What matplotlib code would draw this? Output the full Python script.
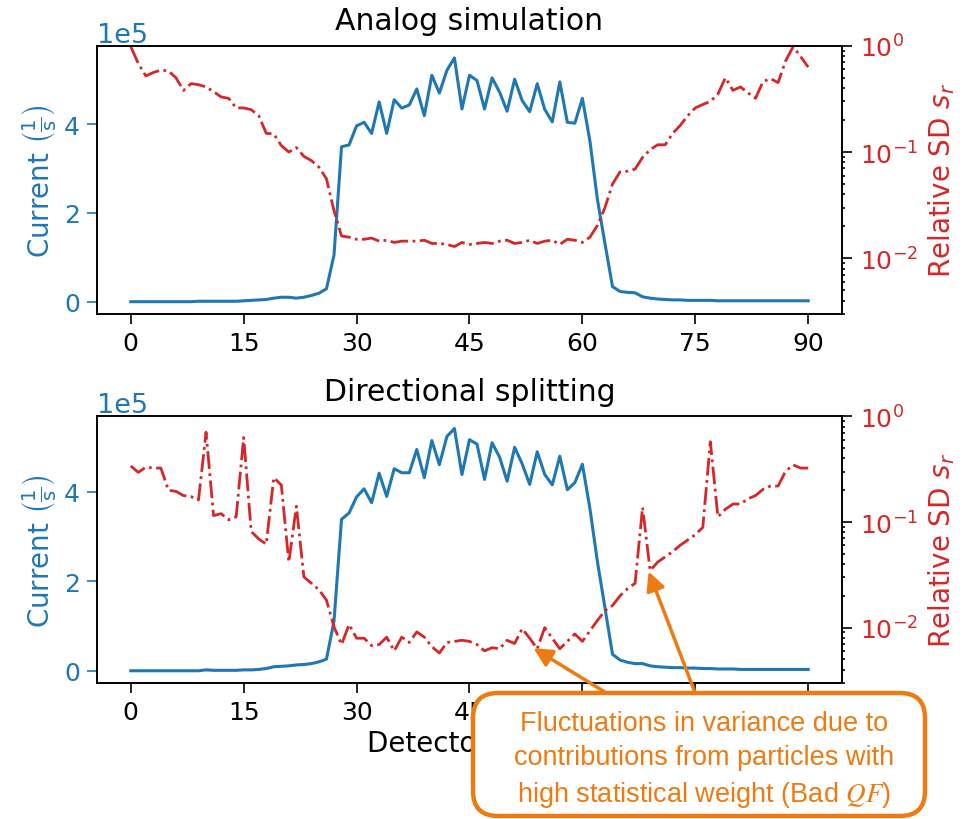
import matplotlib
matplotlib.use("Agg")
import matplotlib.pyplot as plt
from matplotlib.patches import FancyBboxPatch
import numpy as np

# ── data ─────────────────────────────────────────────────────────────────────
det = np.arange(91)

analog_current = [  # units of 1e5 1/s
    0.0, 0.0, 0.0, 0.0, 0.0, 0.0, 0.0, 0.0, 0.0, 0.01,
    0.01, 0.01, 0.01, 0.01, 0.01, 0.02, 0.03, 0.04, 0.05, 0.08,
    0.10, 0.10, 0.08, 0.10, 0.14, 0.19, 0.29, 1.05, 3.49, 3.53,
    3.96, 4.04, 3.79, 4.50, 3.79, 4.55, 4.36, 4.43, 4.79, 4.19,
    5.10, 4.70, 5.21, 5.49, 4.34, 5.10, 4.98, 4.34, 5.04, 4.72,
    4.29, 5.01, 4.53, 4.28, 4.91, 4.33, 4.05, 4.95, 4.04, 4.02,
    4.58, 3.62, 2.30, 1.31, 0.34, 0.23, 0.21, 0.20, 0.11, 0.08,
    0.06, 0.05, 0.04, 0.04, 0.03, 0.03, 0.03, 0.03, 0.02, 0.02,
    0.02, 0.02, 0.02, 0.02, 0.02, 0.02, 0.02, 0.02, 0.02, 0.02,
    0.02]
analog_sd = [
    0.98, 0.68, 0.52, 0.56, 0.59, 0.58, 0.50, 0.38, 0.44, 0.43,
    0.41, 0.37, 0.33, 0.32, 0.26, 0.26, 0.25, 0.22, 0.15, 0.148,
    0.115, 0.100, 0.110, 0.091, 0.083, 0.072, 0.056, 0.028, 0.0162, 0.0158,
    0.0151, 0.0151, 0.0155, 0.0145, 0.0148, 0.0141, 0.0145, 0.0145, 0.0145, 0.0148,
    0.0138, 0.0138, 0.0135, 0.0129, 0.0141, 0.0135, 0.0138, 0.0141, 0.0138, 0.0145,
    0.0148, 0.0138, 0.0141, 0.0148, 0.0138, 0.0145, 0.0148, 0.0135, 0.0151, 0.0148,
    0.0141, 0.0158, 0.0204, 0.030, 0.050, 0.065, 0.066, 0.069, 0.089, 0.105,
    0.117, 0.117, 0.150, 0.178, 0.22, 0.26, 0.28, 0.30, 0.35, 0.50,
    0.38, 0.41, 0.36, 0.32, 0.46, 0.49, 0.45, 0.72, 0.98, 0.79,
    0.63]

split_current = [
    0.0, 0.0, 0.0, 0.0, 0.0, 0.0, 0.0, 0.0, 0.0, 0.0,
    0.02, 0.01, 0.01, 0.01, 0.01, 0.02, 0.02, 0.03, 0.05, 0.09,
    0.10, 0.11, 0.13, 0.14, 0.16, 0.20, 0.26, 1.11, 3.39, 3.53,
    3.89, 4.07, 3.76, 4.42, 3.90, 4.52, 4.43, 4.43, 4.95, 4.32,
    5.15, 4.61, 5.24, 5.42, 4.39, 5.17, 5.07, 4.28, 5.10, 4.78,
    4.24, 5.00, 4.63, 4.17, 4.90, 4.39, 4.16, 4.80, 4.05, 4.21,
    4.62, 3.63, 2.44, 1.41, 0.37, 0.24, 0.19, 0.16, 0.16, 0.11,
    0.09, 0.08, 0.07, 0.07, 0.06, 0.06, 0.05, 0.05, 0.04, 0.04,
    0.04, 0.03, 0.03, 0.03, 0.03, 0.03, 0.03, 0.03, 0.03, 0.03,
    0.03]
split_sd = [
    0.339, 0.295, 0.331, 0.324, 0.324, 0.200, 0.195, 0.178, 0.174, 0.162,
    0.708, 0.115, 0.120, 0.105, 0.112, 0.631, 0.0813, 0.0692, 0.0617, 0.263,
    0.224, 0.0417, 0.141, 0.0302, 0.0263, 0.0229, 0.0182, 0.0102, 0.00692, 0.0107,
    0.00794, 0.00794, 0.00676, 0.00692, 0.00813, 0.00603, 0.00813, 0.00724, 0.00912, 0.00813,
    0.00661, 0.00575, 0.00724, 0.00741, 0.00759, 0.00741, 0.00692, 0.00603, 0.00646, 0.00631,
    0.00759, 0.00708, 0.00977, 0.00794, 0.00631, 0.0100, 0.00794, 0.00631, 0.00741, 0.00871,
    0.00741, 0.00933, 0.0117, 0.0145, 0.0162, 0.0200, 0.0234, 0.0263, 0.138, 0.0347,
    0.0417, 0.0468, 0.0525, 0.0603, 0.0676, 0.0759, 0.0891, 0.575, 0.112, 0.132,
    0.148, 0.148, 0.166, 0.178, 0.204, 0.219, 0.219, 0.302, 0.347, 0.324,
    0.324]

titles = ["Analog simulation", "Directional splitting"]
xticks = [0, 15, 30, 45, 60, 75, 90]

# ── figure ───────────────────────────────────────────────────────────────────
plt.rcParams["font.size"] = 18
LBL = 20
BLUE, RED, ORANGE = "#1f77b4", "#d62728", "#EE7A12"

fig = plt.figure(figsize=(9.69, 8.2), dpi=100)
boxes = [[0.100, 0.616, 0.769, 0.327], [0.100, 0.166, 0.769, 0.325]]
series = [(analog_current, analog_sd), (split_current, split_sd)]

for k, (rect, (cur, sd)) in enumerate(zip(boxes, series)):
    ax = fig.add_axes(rect)
    ax.plot(det, np.array(cur) * 1e5, color=BLUE, lw=2.2)
    ax.set_xticks(xticks)
    ax.set_ylabel(r"Current $\left(\frac{1}{\mathrm{s}}\right)$", color=BLUE, fontsize=LBL)
    ax.tick_params(axis="y", colors=BLUE)
    ax.ticklabel_format(axis="y", style="sci", scilimits=(0, 0))
    ax.yaxis.get_offset_text().set_color(BLUE)
    ax.yaxis.get_offset_text().set_fontsize(19.5)
    ax.set_title(titles[k], fontsize=21.5, pad=12)
    ax.tick_params(axis="both", which="major", length=7, width=1.2, pad=5)
    ax.spines[:].set_linewidth(1.2)

    axr = ax.twinx()
    axr.semilogy(det, sd, color=RED, ls="-.", lw=2.0)
    axr.set_ylim(0.003, 1.0)
    axr.set_ylabel(r"Relative SD $s_r$", color=RED, fontsize=LBL, labelpad=6)
    axr.tick_params(axis="y", which="both", labelcolor=RED, width=1.2)
    axr.tick_params(axis="y", which="major", length=7, pad=6)
    axr.spines[:].set_linewidth(1.2)
    if k == 1:
        ax.set_xlabel("Detector index", fontsize=LBL)
        bottom_r = axr

# ── annotation box ───────────────────────────────────────────────────────────
box = FancyBboxPatch((4.73, 0.03), 4.52, 1.23, boxstyle="round,pad=0,rounding_size=0.25",
                     transform=fig.dpi_scale_trans, facecolor="white",
                     edgecolor=ORANGE, lw=3.2, zorder=10, clip_on=False)
fig.add_artist(box)
fig.text(0.727, 0.073, "Fluctuations in variance due to\ncontributions from particles with\n"
         "high statistical weight (Bad $QF$)", ha="center", va="center",
         color=ORANGE, fontsize=19.5, family="Liberation Sans", linespacing=1.4,
         math_fontfamily="stix", zorder=11)
for tip, tail in [((53.5, 0.0064), (0.624, 0.155)), ((68.8, 0.034), (0.717, 0.155))]:
    bottom_r.annotate("", xy=tip, xycoords="data", xytext=tail, textcoords="figure fraction",
                      arrowprops=dict(arrowstyle="-|>", color=ORANGE, lw=2.5,
                                      mutation_scale=28, shrinkA=0, shrinkB=0),
                      zorder=9, annotation_clip=False)

fig.savefig("out.png", dpi=100)
